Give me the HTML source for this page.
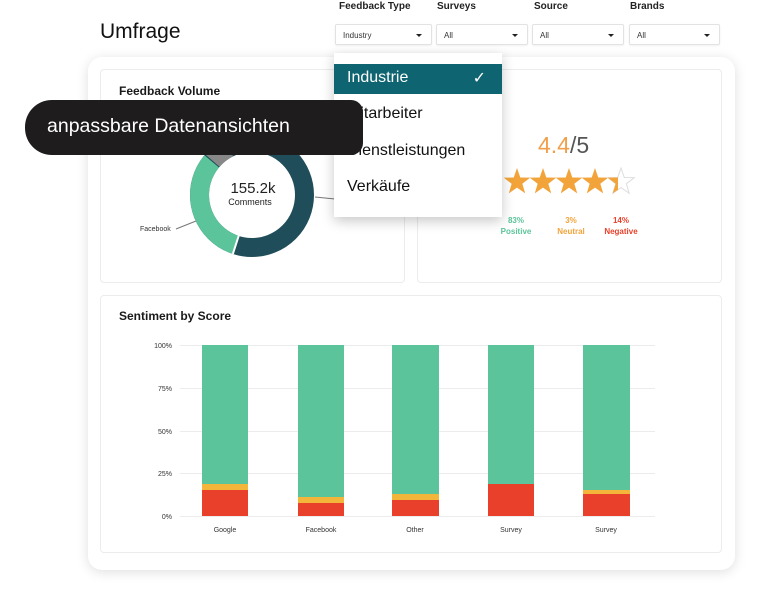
<!DOCTYPE html>
<html><head><meta charset="utf-8"><style>
*{margin:0;padding:0;box-sizing:border-box}
body{width:768px;height:604px;background:#fff;position:relative;overflow:hidden;font-family:"Liberation Sans",sans-serif;color:#1a1a1a}
.abs{position:absolute}
.lbl{font-size:10px;font-weight:bold;color:#222;top:1px}
.sel{top:24px;height:21px;border:1px solid #e2e2e2;border-radius:2px;background:#fff;font-size:8px;padding:6px 0 0 7px;color:#333;box-shadow:0 1px 2px rgba(0,0,0,.06)}
.sel:after{content:"";position:absolute;right:9px;top:9px;border-left:3px solid transparent;border-right:3px solid transparent;border-top:3px solid #222}
.card{background:#fff;border:1px solid #ececec;border-radius:4px}
.dd{font-size:16px;color:#111;left:347px}
</style></head><body>
<div class="abs" style="left:87px;top:17px;width:112px;height:32px;background:#fff;font-size:21px;padding:3px 0 0 13px;color:#111">Umfrage</div>
<div class="abs lbl" style="left:339px">Feedback Type</div>
<div class="abs lbl" style="left:437px">Surveys</div>
<div class="abs lbl" style="left:534px">Source</div>
<div class="abs lbl" style="left:630px">Brands</div>
<div class="abs sel" style="left:335px;width:97px">Industry</div>
<div class="abs sel" style="left:436px;width:92px">All</div>
<div class="abs sel" style="left:532px;width:92px">All</div>
<div class="abs sel" style="left:629px;width:91px">All</div>

<div class="abs" style="left:88px;top:57px;width:647px;height:513px;background:#fff;border-radius:14px;box-shadow:0 2px 12px rgba(0,0,0,.13)"></div>
<div class="abs card" style="left:100px;top:69px;width:305px;height:214px"></div>
<div class="abs card" style="left:417px;top:69px;width:305px;height:214px"></div>
<div class="abs card" style="left:100px;top:295px;width:622px;height:258px"></div>
<div class="abs" style="left:119px;top:84px;font-size:12px;font-weight:bold">Feedback Volume</div>
<div class="abs" style="left:119px;top:309px;font-size:12px;font-weight:bold">Sentiment by Score</div>

<svg class="abs" style="left:0;top:0" width="768" height="604">
<g transform="translate(252,195)">
<circle r="52.5" fill="none" stroke="#1f4d59" stroke-width="19"/>
<circle r="52.5" fill="none" stroke="#5bc49a" stroke-width="19" stroke-dasharray="102.4 400" transform="rotate(108)"/>
<circle r="52.5" fill="none" stroke="#888" stroke-width="19" stroke-dasharray="21 400" transform="rotate(221)"/>
<line x1="0" y1="0" x2="0" y2="-62" stroke="#fff" stroke-width="2" transform="rotate(198)"/>
</g>
<line x1="176" y1="229" x2="196" y2="221" stroke="#777" stroke-width="1"/>
<line x1="315" y1="197" x2="335" y2="199" stroke="#777" stroke-width="1"/>
<text x="140" y="231" font-size="7" fill="#333">Facebook</text>
<text x="253" y="193" font-size="15" text-anchor="middle" fill="#222">155.2k</text>
<text x="250" y="205" font-size="9" text-anchor="middle" fill="#222">Comments</text>

<text x="538" y="153" font-size="23" fill="#f0a04b">4.4<tspan fill="#555">/5</tspan></text>
<defs><clipPath id="hc"><rect x="608" y="160" width="10" height="40"/></clipPath>
<polygon id="st" points="0,-14 3.29,-4.53 13.31,-4.33 5.33,1.73 8.23,11.33 0,5.6 -8.23,11.33 -5.33,1.73 -13.31,-4.33 -3.29,-4.53"/></defs>
<g fill="#f2a43a"><use href="#st" x="517" y="182"/><use href="#st" x="543" y="182"/><use href="#st" x="569" y="182"/><use href="#st" x="595" y="182"/></g>
<use href="#st" x="621" y="182" fill="none" stroke="#ddd" stroke-width="1"/>
<g clip-path="url(#hc)"><use href="#st" x="621" y="182" fill="#f2a43a"/></g>
<g font-size="8" font-weight="bold" text-anchor="middle">
<text x="516" y="223" fill="#5bc49a">83%</text><text x="516" y="234" fill="#5bc49a">Positive</text>
<text x="571" y="223" fill="#f2a43a">3%</text><text x="571" y="234" fill="#f2a43a">Neutral</text>
<text x="621" y="223" fill="#e8402a">14%</text><text x="621" y="234" fill="#e8402a">Negative</text>
</g>

<g stroke="#ececec" stroke-width="1">
<line x1="180" y1="345.5" x2="655" y2="345.5"/><line x1="180" y1="388.5" x2="655" y2="388.5"/>
<line x1="180" y1="431.5" x2="655" y2="431.5"/><line x1="180" y1="473.5" x2="655" y2="473.5"/>
<line x1="180" y1="516.5" x2="655" y2="516.5"/></g>
<g font-size="7" fill="#333" text-anchor="end">
<text x="172" y="348">100%</text><text x="172" y="391">75%</text><text x="172" y="434">50%</text><text x="172" y="476">25%</text><text x="172" y="519">0%</text></g>
<g fill="#5bc49a">
<rect x="202" y="345" width="46" height="171"/><rect x="298" y="345" width="46" height="171"/>
<rect x="392" y="345" width="47" height="171"/><rect x="488" y="345" width="46" height="171"/>
<rect x="583" y="345" width="47" height="171"/></g>
<g fill="#f3b63a">
<rect x="202" y="484" width="46" height="32"/><rect x="298" y="497" width="46" height="19"/>
<rect x="392" y="494" width="47" height="22"/><rect x="583" y="490" width="47" height="26"/></g>
<g fill="#e8402a">
<rect x="202" y="490" width="46" height="26"/><rect x="298" y="503" width="46" height="13"/>
<rect x="392" y="500" width="47" height="16"/><rect x="488" y="484" width="46" height="32"/>
<rect x="583" y="494" width="47" height="22"/></g>
<g font-size="7" fill="#333" text-anchor="middle">
<text x="225" y="532">Google</text><text x="321" y="532">Facebook</text><text x="415" y="532">Other</text><text x="511" y="532">Survey</text><text x="606" y="532">Survey</text></g>
</svg>

<div class="abs" style="left:334px;top:53px;width:168px;height:164px;background:#fff;box-shadow:0 4px 12px rgba(0,0,0,.22)"></div>
<div class="abs" style="left:334px;top:64px;width:168px;height:30px;background:#0e6470;color:#fff;font-size:16px;padding:5px 0 0 13px">Industrie<span style="position:absolute;right:16px;top:4px">✓</span></div>
<div class="abs dd" style="top:105px">Mitarbeiter</div>
<div class="abs dd" style="top:142px">Dienstleistungen</div>
<div class="abs dd" style="top:178px">Verkäufe</div>

<div class="abs" style="left:25px;top:100px;width:338px;height:55px;background:#1e1c1d;border-radius:27px 12px 12px 27px;color:#fff;font-size:19.5px;padding:15px 0 0 22px">anpassbare Datenansichten</div>
</body></html>
